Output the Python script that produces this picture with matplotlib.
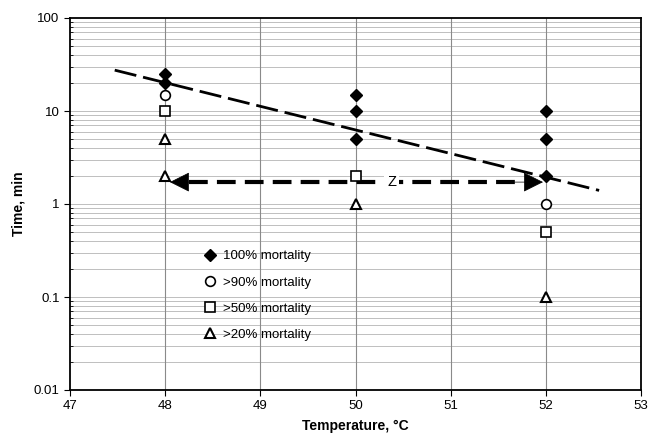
import numpy as np
import matplotlib
matplotlib.use('Agg')
import matplotlib.pyplot as plt
from matplotlib.ticker import FixedLocator, FixedFormatter, LogLocator, NullFormatter

# mortality data: temperature (C) vs exposure time (min)
temp_100 = [48, 48, 50, 50, 50, 52, 52, 52]
time_100 = [25, 20, 15, 10, 5, 10, 5, 2]
temp_90 = [48, 52]
time_90 = [15, 1]
temp_50 = [48, 50, 52]
time_50 = [10, 2, 0.5]
temp_20 = [48, 48, 50, 52]
time_20 = [5, 2, 1, 0.1]

# trend line end points and the "Z" shift arrow
trend_x = [47.47, 52.56]
trend_y = [27.5, 1.4]
arrow_x = [48.05, 51.97]
arrow_y = 1.72

y_ticks = [0.01, 0.1, 1, 10, 100]
y_labels = ['0.01', '0.1', '1', '10', '100']
x_ticks = [47, 48, 49, 50, 51, 52, 53]

plt.rcParams['font.family'] = ['Liberation Sans', 'DejaVu Sans']

fig = plt.figure(figsize=(6.59, 4.38), dpi=100)
ax = fig.add_axes([70 / 659, 1 - 390 / 438, 571 / 659, 372 / 438])

ax.set_yscale('log')
ax.set_xlim(47, 53)
ax.set_ylim(0.01, 100)

# grid: every decade subdivision horizontally, every degree vertically
minor = [m * 10.0 ** e for e in range(-2, 2) for m in range(2, 10)]
for v in minor + y_ticks[1:-1]:
    ax.axhline(v, color='#b4b4b4', lw=0.6, zorder=0)
for t in x_ticks[1:-1]:
    ax.axvline(t, color='#8a8a8a', lw=0.8, zorder=0)

ax.plot(trend_x, trend_y, color='black', lw=2.0, dashes=(8, 2.5), zorder=2)

# Z: dashed shaft with solid heads at both ends
ax.plot([arrow_x[0] + 0.2, arrow_x[1] - 0.2], [arrow_y, arrow_y], color='black',
        lw=3.0, dashes=(4.5, 2.2), zorder=3)
for tip, tail in [(arrow_x[0], arrow_x[0] + 0.3), (arrow_x[1], arrow_x[1] - 0.3)]:
    ax.annotate('', xy=(tip, arrow_y), xytext=(tail, arrow_y),
                arrowprops=dict(arrowstyle='-|>', color='black', lw=0.5,
                                mutation_scale=32, shrinkA=0, shrinkB=0),
                zorder=3)
ax.text(50.38, arrow_y, 'Z', fontsize=10.5, ha='center', va='center',
        bbox=dict(facecolor='white', edgecolor='none', pad=2), zorder=4)

h1, = ax.plot(temp_100, time_100, 'D', ms=6.5, color='black', ls='none', zorder=5,
              label='100% mortality')
h2, = ax.plot(temp_90, time_90, 'o', ms=7, mfc='white', mec='black', mew=1.2,
              ls='none', zorder=5, label='>90% mortality')
h3, = ax.plot(temp_50, time_50, 's', ms=7, mfc='white', mec='black', mew=1.2,
              ls='none', zorder=5, label='>50% mortality')
h4, = ax.plot(temp_20, time_20, '^', ms=7.5, mfc='white', mec='black', mew=1.5,
              ls='none', zorder=5, label='>20% mortality')

leg = ax.legend(handles=[h1, h2, h3, h4], loc='upper left',
                bbox_to_anchor=(0.222, 0.39), frameon=False, fontsize=9.5,
                labelspacing=1.05, handletextpad=0.4, handlelength=1.2,
                borderaxespad=0)

ax.yaxis.set_major_locator(FixedLocator(y_ticks))
ax.yaxis.set_major_formatter(FixedFormatter(y_labels))
ax.yaxis.set_minor_locator(LogLocator(base=10, subs=np.arange(2, 10)))
ax.yaxis.set_minor_formatter(NullFormatter())
ax.set_xticks(x_ticks)

ax.tick_params(axis='both', which='major', direction='out', length=4, width=0.8,
               labelsize=9.5, colors='black')
ax.tick_params(axis='y', which='minor', direction='in', length=2, width=0.6)
for s in ax.spines.values():
    s.set_linewidth(1.3)

ax.set_xlabel('Temperature, °C', fontsize=10, fontweight='bold', labelpad=5)
ax.set_ylabel('Time, min', fontsize=10, fontweight='bold', labelpad=6)

fig.savefig('out.png', dpi=100)
